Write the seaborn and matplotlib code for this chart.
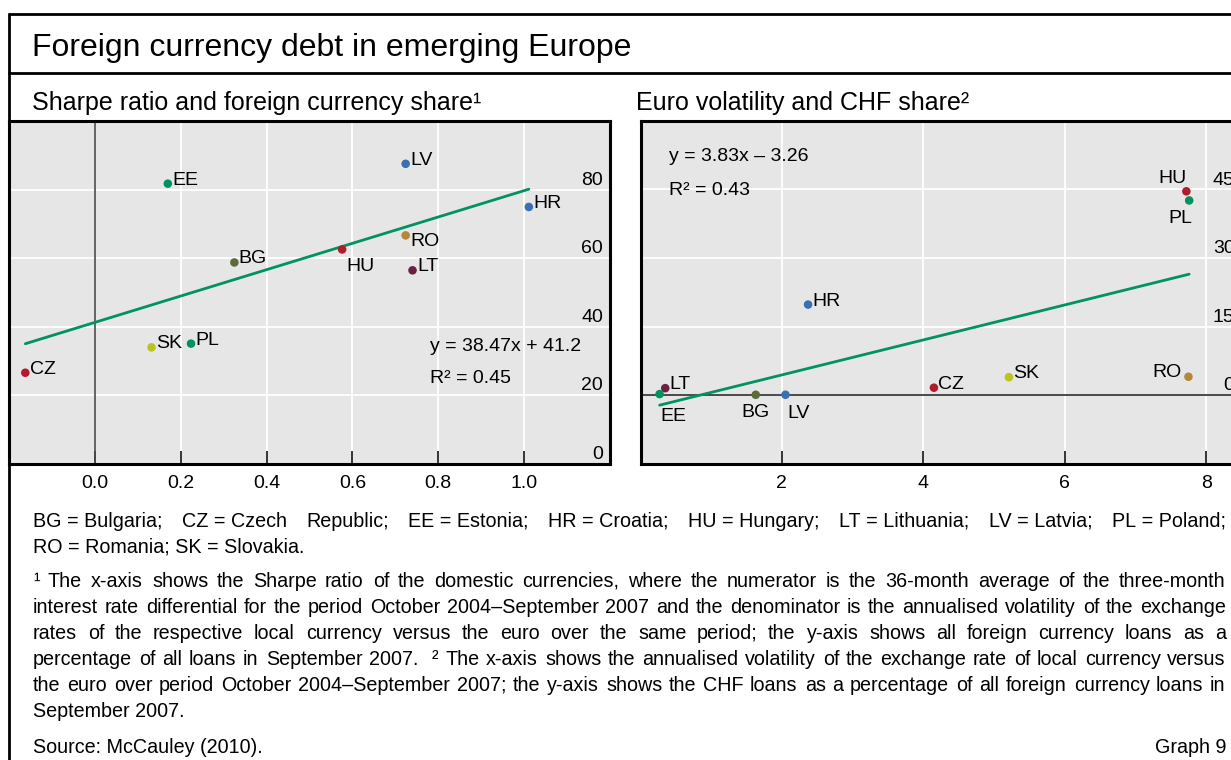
import math
import matplotlib
matplotlib.use("Agg")
import matplotlib.pyplot as plt
from matplotlib.lines import Line2D
from matplotlib.font_manager import FontProperties
import seaborn as sns
import pandas as pd
import numpy as np

# ---------------- data ----------------
countries_left = ["LV", "EE", "HR", "RO", "HU", "BG", "LT", "SK", "PL", "CZ"]
sharpe_ratio = [0.724, 0.170, 1.011, 0.724, 0.576, 0.325, 0.740, 0.132, 0.224, -0.162]
fx_loan_share = [87.5, 81.7, 74.9, 66.6, 62.5, 58.7, 56.4, 33.9, 35.0, 26.5]
left_slope, left_intercept, left_r2 = 38.47, 41.2, 0.45

countries_right = ["HU", "PL", "HR", "LT", "EE", "BG", "LV", "CZ", "SK", "RO"]
euro_volatility = [7.72, 7.76, 2.37, 0.35, 0.27, 1.63, 2.05, 4.15, 5.21, 7.75]
chf_share = [44.6, 42.6, 19.8, 1.5, 0.2, 0.05, 0.05, 1.6, 3.9, 4.0]
right_slope, right_intercept, right_r2 = 3.83, -3.26, 0.43

left_xticks = [0.0, 0.2, 0.4, 0.6, 0.8, 1.0]
left_ylabels = [0, 20, 40, 60, 80]
right_xticks = [2, 4, 6, 8]
right_ylabels = [0, 15, 30, 45]

title = "Foreign currency debt in emerging Europe"
subtitle_left = "Sharpe ratio and foreign currency share\u00b9"
subtitle_right = "Euro volatility and CHF share\u00b2"
footnote_lines = [
    ("BG\u00a0=\u00a0Bulgaria; CZ\u00a0=\u00a0Czech Republic; EE\u00a0=\u00a0Estonia; HR\u00a0=\u00a0Croatia; "
     "HU\u00a0=\u00a0Hungary; LT\u00a0=\u00a0Lithuania; LV\u00a0=\u00a0Latvia; PL\u00a0=\u00a0Poland;", True),
    ("RO\u00a0=\u00a0Romania; SK\u00a0=\u00a0Slovakia.", False),
    ("\u00b9 The x-axis shows the Sharpe ratio of the domestic currencies, where the numerator is the 36-month "
     "average of the three-month", True),
    ("interest rate differential for the period October 2004\u2013September 2007 and the denominator is the "
     "annualised volatility of the exchange", True),
    ("rates of the respective local currency versus the euro over the same period; the y-axis shows all "
     "foreign currency loans as a", True),
    ("percentage of all loans in September 2007.  \u00b2 The x-axis shows the annualised volatility of the "
     "exchange rate of local currency versus", True),
    ("the euro over period October 2004\u2013September 2007; the y-axis shows the CHF loans as a percentage "
     "of all foreign currency loans in", True),
    ("September 2007.", False),
]
source_text = "Source: McCauley (2010)."
graph_text = "Graph 9"

# ---------------- style ----------------
colors = {
    "LV": "#3a6fb4", "HR": "#3a6fb4",
    "EE": "#00935f", "PL": "#00935f",
    "HU": "#b01c2e", "CZ": "#b01c2e",
    "RO": "#b5873a", "BG": "#5d6b3c",
    "LT": "#6b2142", "SK": "#b9c41c",
}
line_green = "#00935f"
bg_grey = "#e6e6e6"
FS = 14.0      # labels, ticks, equations
FS_NOTE = 14.2  # footnotes
PX = 1 / 1.389  # pixels -> points at dpi 100
FAMILY = ["Liberation Sans", "DejaVu Sans"]

W, H = 1231, 760
sns.set_theme(style="white")
plt.rcParams["font.family"] = FAMILY
plt.rcParams["text.color"] = "black"

fig = plt.figure(figsize=(W / 100, H / 100), dpi=100)
fig.patch.set_facecolor("white")


def fx(px):
    return px / W


def fy(py):
    return 1 - py / H


ax_top, ax_bot = 121, 463.5
ax_l = fig.add_axes([fx(9), fy(ax_bot), 601 / W, (ax_bot - ax_top) / H])
ax_r = fig.add_axes([fx(640.5), fy(ax_bot), 601 / W, (ax_bot - ax_top) / H])


def style_axes(ax, xlim, ylim, xticks, xticklabels, ygrid):
    ax.set_facecolor(bg_grey)
    ax.set_xlim(xlim)
    ax.set_ylim(ylim)
    ax.set_xticks(xticks)
    ax.set_xticklabels(xticklabels)
    ax.set_yticks(ygrid)
    ax.tick_params(axis="y", left=False, right=False, labelleft=False)
    ax.tick_params(axis="x", bottom=True, direction="in", length=13 * PX, width=1.1,
                   color="black", pad=8.0, labelsize=FS, labelcolor="black")
    ax.grid(True, color="white", lw=1.3)
    ax.set_axisbelow(True)
    for s in ax.spines.values():
        s.set_visible(True)
        s.set_color("black")
        s.set_linewidth(2.2)
    ax.set_xlabel("")
    ax.set_ylabel("")


df_l = pd.DataFrame({"country": countries_left, "x": sharpe_ratio, "y": fx_loan_share})
df_r = pd.DataFrame({"country": countries_right, "x": euro_volatility, "y": chf_share})

# regression lines over the data range
xl = np.array([min(sharpe_ratio), max(sharpe_ratio)])
xr = np.array([min(euro_volatility), max(euro_volatility)])
sns.lineplot(x=xl, y=left_slope * xl + left_intercept, color=line_green, lw=2.0, ax=ax_l, zorder=2)
sns.lineplot(x=xr, y=right_slope * xr + right_intercept, color=line_green, lw=2.0, ax=ax_r, zorder=2)

sns.scatterplot(data=df_l, x="x", y="y", hue="country", palette=colors, s=38, linewidth=0,
                legend=False, ax=ax_l, zorder=3)
sns.scatterplot(data=df_r, x="x", y="y", hue="country", palette=colors, s=38, linewidth=0,
                legend=False, ax=ax_r, zorder=3)

style_axes(ax_l, (-0.2, 1.2), (0, 100), left_xticks, [f"{v:.1f}" for v in left_xticks], [20, 40, 60, 80])
style_axes(ax_r, (0, 8.5), (-15, 60), right_xticks, [f"{v}" for v in right_xticks], [15, 30, 45])

ax_l.axvline(0, color="#4a4a4a", lw=1.2, zorder=1.5)
ax_r.axhline(0, color="#4a4a4a", lw=1.4, zorder=1.5)

# y labels inside the plot at the right
for ax, vals in ((ax_l, left_ylabels), (ax_r, right_ylabels)):
    for v in vals:
        ax.annotate(f"{v}", xy=(1, v), xycoords=("axes fraction", "data"),
                    xytext=(-7 * PX, 5 * PX), textcoords="offset points",
                    ha="right", va="baseline", fontsize=FS)

# point labels: (dx px, dy px, ha)
default_off = (4.5, -1, "left")
left_offsets = {"HU": (4.5, -22, "left"), "RO": (5, -11, "left")}
right_offsets = {"HU": (0, 8, "right"), "PL": (3, -23, "right"), "EE": (1, -27, "left"),
                 "BG": (0, -22, "center"), "LV": (1.5, -23.5, "left"), "RO": (-6.5, -0.5, "right")}

for ax, df, offs in ((ax_l, df_l, left_offsets), (ax_r, df_r, right_offsets)):
    for _, row in df.iterrows():
        dx, dy, ha = offs.get(row["country"], default_off)
        ax.annotate(row["country"], xy=(row["x"], row["y"]), xytext=(dx * PX, dy * PX),
                    textcoords="offset points", ha=ha, va="baseline", fontsize=FS, zorder=4)

# regression equations
ax_l.text(0.78, 32.8, f"y = {left_slope}x + {left_intercept}", fontsize=FS, va="baseline", ha="left")
ax_l.text(0.78, 23.5, f"R\u00b2 = {left_r2}", fontsize=FS, va="baseline", ha="left")
ax_r.text(0.40, 51.2, f"y = {right_slope}x \u2013 {abs(right_intercept)}", fontsize=FS, va="baseline", ha="left")
ax_r.text(0.40, 43.8, f"R\u00b2 = {right_r2}", fontsize=FS, va="baseline", ha="left")

# frame lines
for xs, ys in (([fx(9), fx(9)], [fy(14), 0]),
               ([fx(9), 1], [fy(14), fy(14)]),
               ([fx(9), 1], [fy(73), fy(73)])):
    fig.add_artist(Line2D(xs, ys, transform=fig.transFigure, color="black", lw=2.0))

# titles
fig.text(fx(32), fy(56), title, fontsize=23, ha="left", va="baseline")
fig.text(fx(32), fy(110), subtitle_left, fontsize=18, ha="left", va="baseline")
fig.text(fx(636), fy(110), subtitle_right, fontsize=18, ha="left", va="baseline")

# footnotes (justified word by word)
renderer = fig.canvas.get_renderer()
X0, X1 = 33, 1226
fp_note = FontProperties(family=FAMILY, size=FS_NOTE)


def text_width(s):
    if s == "":
        return 0.0
    t = fig.text(0, 0, s, fontsize=FS_NOTE)
    w = t.get_window_extent(renderer=renderer).width
    t.remove()
    return w


def baseline_shift(s, base_y):
    """Integer shift that makes the rasterised baseline of this word land on base_y."""
    try:
        from matplotlib.backends.backend_agg import get_hinting_flag
        font = renderer._prepare_font(fp_note)
        font.set_text(s, 0, flags=get_hinting_flag())
        b = font.get_descent() / 64.0
        h = font.get_width_height()[1] / 64.0
        for sft in (0, -1, 1, -2, 2):
            B = base_y + sft - 0.25
            r = round(B + b) - math.floor(h + 1e-9) + math.floor(h - b + 1e-9)
            if r == base_y:
                return sft
    except Exception:
        pass
    return 0


def put_word(x, base_y, s):
    sft = baseline_shift(s, base_y)
    fig.text(round(x) / W, fy(base_y + sft - 0.25), s, fontsize=FS_NOTE, ha="left", va="baseline")


def place_line(s, base_y, justify):
    if not justify:
        put_word(X0, base_y, s)
        return
    tokens = s.split(" ")
    widths = [text_width(t) for t in tokens]
    gap = (X1 - X0 - sum(widths)) / (len(tokens) - 1)
    x = X0
    for t, w in zip(tokens, widths):
        if t:
            put_word(x, base_y, t)
        x += w + gap


baselines = [527, 553, 587, 613, 639, 665, 691, 717]
for (s, j), b in zip(footnote_lines, baselines):
    place_line(s, b, j)

fig.text(fx(X0), fy(753), source_text, fontsize=FS_NOTE, ha="left", va="baseline")
fig.text(fx(X1), fy(753), graph_text, fontsize=FS_NOTE, ha="right", va="baseline")

fig.savefig("out.png", dpi=100, facecolor="white")
